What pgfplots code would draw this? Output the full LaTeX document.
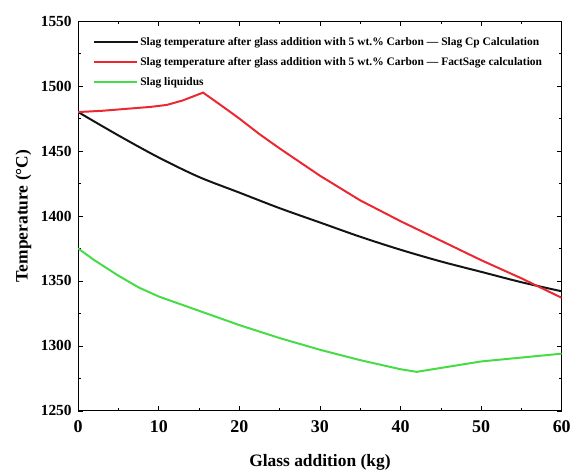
\documentclass[border=0pt]{standalone}
\usepackage{fontspec}
\setmainfont{Liberation Serif}
\usepackage{pgfplots}
\pgfplotsset{compat=1.18}

\definecolor{cpblack}{RGB}{20,20,20}
\definecolor{fsred}{RGB}{235,40,50}
\definecolor{liqgreen}{RGB}{70,220,70}

\begin{document}
\begin{tikzpicture}
\begin{axis}[
  scale only axis,
  width=484bp, height=390bp,
  xmin=0, xmax=60, ymin=1250, ymax=1550,
  xtick={0,10,...,60}, ytick={1250,1300,...,1550},
  minor x tick num=1, minor y tick num=1,
  tick align=inside,
  major tick length=5bp, minor tick length=3bp,
  every tick/.style={black, line width=0.6pt},
  axis line style={line width=0.7pt},
  /pgf/number format/assume math mode=true,
  /pgf/number format/1000 sep={},
  xticklabel style={font=\fontsize{18}{20}\selectfont\bfseries, yshift=-6bp},
  yticklabel style={font=\fontsize{15.5}{17}\selectfont\bfseries, xshift=-3bp},
  xlabel={Glass addition (kg)},
  ylabel={Temperature (°C)},
  label style={font=\fontsize{17.5}{20}\selectfont\bfseries},
  xlabel style={yshift=-17bp, inner sep=2bp},
  ylabel style={inner ysep=15.5bp, yshift=-9.5bp},
  title={\rule{0pt}{15bp}},
  title style={at={(0.5,1)}, anchor=south, yshift=0pt, inner sep=0pt},
  legend style={at={(0.025,0.97)}, anchor=north west, draw=none, fill=none,
    font=\fontsize{11.5}{13}\selectfont\bfseries, row sep=6.5bp},
  legend cell align=left,
  legend image code/.code={\draw[mark repeat=2, mark phase=2, #1]
    plot coordinates {(0bp,0bp) (21bp,0bp) (43bp,0bp)};},
  legend image post style={line width=2pt},
]
\addplot[cpblack, line width=2pt, smooth] coordinates {
  (0,1480) (5,1462) (10,1445) (15,1430) (20,1418) (25,1406) (30,1395)
  (35,1384) (40,1374) (45,1365) (50,1357) (55,1349) (60,1342)
};
\addplot[fsred, line width=2pt] coordinates {
  (0,1480) (3,1481) (6,1482.5) (9,1484) (11,1485.5) (13,1489) (15.5,1495)
  (18,1484) (20,1475) (22.5,1463) (25,1452) (30,1431) (35,1412) (40,1396)
  (45,1381) (50,1366) (55,1352) (60,1337)
};
\addplot[liqgreen, line width=2pt] coordinates {
  (0,1375) (2,1366) (5,1354) (7.5,1345) (10,1338) (15,1327) (20,1316)
  (25,1306) (30,1297) (35,1289) (40,1282) (42,1280) (45,1283) (50,1288)
  (55,1291) (60,1294)
};
\legend{Slag temperature after glass addition with 5 wt.\% Carbon --- Slag Cp Calculation,
        Slag temperature after glass addition with 5 wt.\% Carbon --- FactSage calculation,
        Slag liquidus}
\end{axis}
\end{tikzpicture}
\end{document}
